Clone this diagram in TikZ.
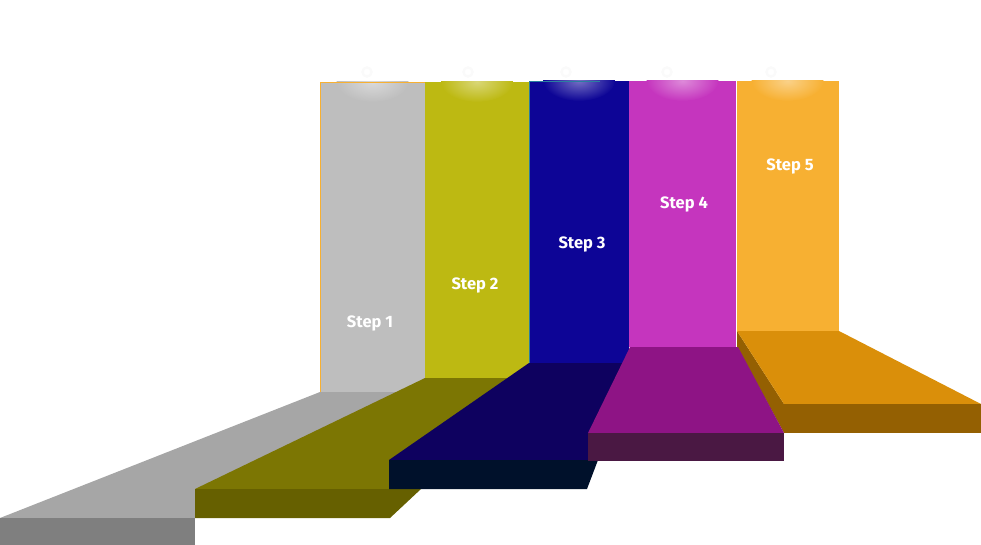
\documentclass[tikz,border=0pt]{standalone}
\usepackage{fontspec}
\newfontfamily\stepfont{Fira Sans}
\definecolor{cA}{HTML}{BEBEBE}\definecolor{fA}{HTML}{A6A6A6}\definecolor{dA}{HTML}{7F7F7F}
\definecolor{cB}{HTML}{BDB912}\definecolor{fB}{HTML}{7C7603}\definecolor{dB}{HTML}{666000}
\definecolor{cC}{HTML}{0D0596}\definecolor{fC}{HTML}{0E015F}\definecolor{dC}{HTML}{00112B}
\definecolor{cD}{HTML}{C535BE}\definecolor{fD}{HTML}{8E1485}\definecolor{dD}{HTML}{4A1843}
\definecolor{cE}{HTML}{F7B032}\definecolor{fE}{HTML}{DA8F0A}\definecolor{dE}{HTML}{946002}
\definecolor{edgeC}{HTML}{2A7FA0}
\begin{document}
\begin{tikzpicture}[x=1pt,y=-1pt,
  steplabel/.style={text=white,font=\stepfont\bfseries\fontsize{16.5}{19}\selectfont,inner sep=0pt},
  ghost/.style={draw=black!2,line width=2.5pt}]
\useasboundingbox (0,0) rectangle (981,545);
% faint ghost glows above columns
\foreach \gx in {367,468,566,667,771} \draw[ghost] (\gx,72) circle (4.5);
% columns
\newcommand{\colglow}[5]{%
  \fill[#5] (#1,#3) rectangle (#2,#4);
  \begin{scope}
    \clip (#1,#3) rectangle (#2,#4);
    \shade[inner color=white!42!#5, outer color=#5] ({(#1+#2)/2},#3) ellipse (36 and 20);
  \end{scope}}
\colglow{320}{425}{82}{392}{cA}
\colglow{425}{529}{82}{378}{cB}
\colglow{529}{629}{81}{363}{cC}
\colglow{629}{736}{81}{347}{cD}
\colglow{736}{839}{81}{331}{cE}
% thin edges
\draw[cE,line width=0.9pt] (320.4,392) -- (320.4,82.4) -- (425,82.4);
\draw[edgeC,line width=0.8pt] (529.4,363) -- (529.4,81.4) -- (600,81.4);
\draw[white,line width=1pt] (736.5,81) -- (736.5,331);
% labels
\node[steplabel] (s1) at (370,323) {Step 1};
\node[steplabel] (s2) at (475,285) {Step 2};
\node[steplabel] (s3) at (582,244) {Step 3};
\node[steplabel] (s4) at (684,204) {Step 4};
\node[steplabel] (s5) at (790,166) {Step 5};
% floor 1 (gray)
\fill[fA] (320,392) -- (425,392) -- (195,518) -- (0,518) -- cycle;
\fill[dA] (0,518) rectangle (195,545);
% floor 2 (olive)
\fill[fB] (425,378) -- (529,378) -- (421,489) -- (195,489) -- cycle;
\fill[dB] (195,489) -- (421,489) -- (390,518) -- (195,518) -- cycle;
% floor 3 (navy)
\fill[fC] (529,363) -- (629,363) -- (598,460) -- (389,460) -- cycle;
\fill[dC] (389,460) -- (598,460) -- (587,489) -- (389,489) -- cycle;
% floor 5 (orange)
\fill[dE] (737,331) -- (784,404) -- (784,433) -- (737,347) -- cycle;
\fill[fE] (737,331) -- (839,331) -- (981,404) -- (784,404) -- cycle;
\fill[dE] (784,404) rectangle (981,433);
% floor 4 (magenta)
\fill[fD] (630,347) -- (738,347) -- (784,433) -- (588,433) -- cycle;
\fill[dD] (588,433) rectangle (784,461);
\end{tikzpicture}
\end{document}
